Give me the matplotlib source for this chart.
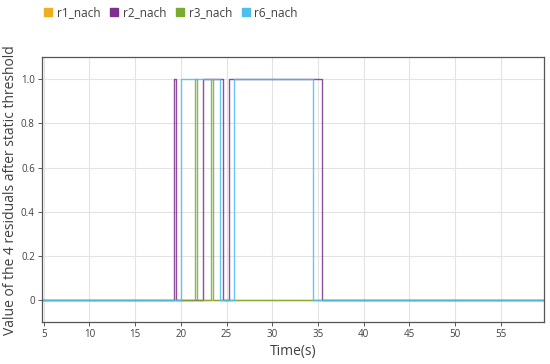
import matplotlib
matplotlib.use("Agg")
import matplotlib.pyplot as plt
from matplotlib.lines import Line2D

# step signals: switching times (s) and the value held after each time
r1_t = [0, 60]
r1_v = [0, 0]
r2_t = [0, 19.2, 19.5, 22.45, 24.6, 25.25, 35.45, 60]
r2_v = [0, 1, 0, 1, 0, 1, 0, 0]
r3_t = [0, 21.6, 21.8, 23.35, 23.5, 60]
r3_v = [0, 1, 0, 1, 0, 0]
r6_t = [0, 20.05, 24.3, 25.8, 34.45, 60]
r6_v = [0, 1, 0, 1, 0, 0]

labels = ['r1_nach', 'r2_nach', 'r3_nach', 'r6_nach']
colors = ['#EDB120', '#7E2F8E', '#77AC30', '#4DBEEE']
x_ticks = [5, 10, 15, 20, 25, 30, 35, 40, 45, 50, 55]
y_ticks = [0, 0.2, 0.4, 0.6, 0.8, 1.0]
y_ticklabels = ['0', '0.2', '0.4', '0.6', '0.8', '1.0']

plt.rcParams['font.family'] = ['Open Sans', 'DejaVu Sans']
txt = '#404040'

fig = plt.figure(figsize=(5.5, 3.64), dpi=100)
ax = fig.add_axes([0.076, 0.115, 0.913, 0.728])

series = [(r1_t, r1_v), (r2_t, r2_v), (r3_t, r3_v), (r6_t, r6_v)]
for (t, v), c in zip(series, colors):
    ax.plot(t, v, drawstyle='steps-post', color=c, linewidth=1.0, alpha=0.85)

ax.set_xlim(4.8, 59.7)
ax.set_ylim(-0.1, 1.1)
ax.set_xticks(x_ticks)
ax.set_yticks(y_ticks)
ax.set_yticklabels(y_ticklabels)
ax.grid(True, color='#e3e3e3', linewidth=0.8)
ax.set_axisbelow(True)
ax.tick_params(labelsize=7, colors=txt, length=3, width=0.6, pad=2)
for s in ax.spines.values():
    s.set_color('#555555')
    s.set_linewidth(0.9)

ax.set_xlabel('Time(s)', fontsize=10, color=txt, labelpad=3)
ax.set_ylabel('Value of the 4 residuals after static threshold', fontsize=10, color=txt, labelpad=2)

handles = [Line2D([], [], marker='s', linestyle='none', markersize=5.5, color=c) for c in colors]
fig.legend(handles, labels, loc='upper left', bbox_to_anchor=(0.06, 1.012), ncol=4,
           frameon=False, fontsize=8.5, handletextpad=0.3, columnspacing=0.8,
           handlelength=0.8, labelcolor=txt)

fig.savefig('out.png', dpi=100)
